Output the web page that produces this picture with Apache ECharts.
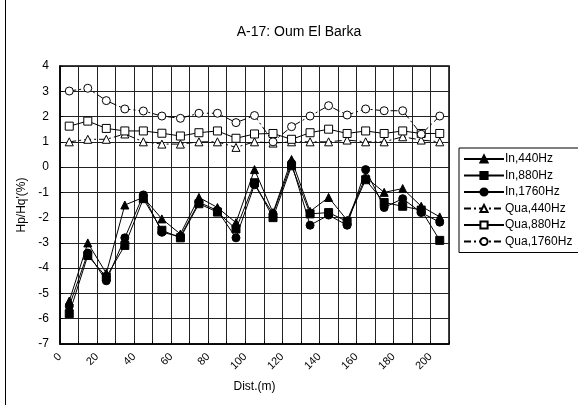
<!DOCTYPE html>
<html><head><meta charset="utf-8">
<script src="https://cdn.jsdelivr.net/npm/echarts@6/dist/echarts.min.js"></script>
<style>html,body{margin:0;padding:0;background:#fff}#c{width:578px;height:405px}</style>
</head><body><div id="c"></div>
<script>
const dist = [5,15,25,35,45,55,65,75,85,95,105,115,125,135,145,155,165,175,185,195,205];
const in440  = [-5.3,-3.0,-4.2,-1.5,-1.2,-2.05,-2.65,-1.2,-1.6,-2.2,-0.1,-1.8,0.3,-1.75,-1.2,-2.1,-0.4,-1.0,-0.85,-1.55,-1.97];
const in880  = [-5.8,-3.5,-4.35,-3.1,-1.25,-2.5,-2.8,-1.45,-1.78,-2.45,-0.62,-2.0,0.05,-1.85,-1.8,-2.15,-0.5,-1.4,-1.55,-1.7,-2.9];
const in1760 = [-5.5,-3.4,-4.5,-2.8,-1.1,-2.58,-2.75,-1.39,-1.72,-2.8,-0.7,-1.85,0.15,-2.3,-1.9,-2.3,-0.1,-1.6,-1.25,-1.8,-2.18];
const qua440  = [1.0,1.1,1.1,1.31,1.0,0.91,0.91,1.0,1.0,0.78,1.0,0.95,1.0,1.0,1.0,1.07,1.0,1.0,1.2,1.07,1.0];
const qua880  = [1.62,1.82,1.53,1.43,1.43,1.34,1.23,1.36,1.43,1.14,1.31,1.33,1.1,1.36,1.5,1.33,1.43,1.33,1.43,1.33,1.33];
const qua1760 = [3.01,3.12,2.63,2.3,2.22,2.02,1.93,2.13,2.13,1.76,2.04,1.0,1.6,2.02,2.43,2.06,2.3,2.23,2.23,1.3,2.02];
const xTicks = [0,20,40,60,80,100,120,140,160,180,200];
const yTicks = [-7,-6,-5,-4,-3,-2,-1,0,1,2,3,4];

const pair = a => a.map((v,i)=>[dist[i], v]);
const FONT = 'Liberation Sans, Arial, sans-serif';
const dash = [7,3,2,3];
function mk(name, data, symbol, filled, dashed){
  return {
    name, type:'line', data: pair(data), symbol, symbolSize: 8,
    showSymbol:true,
    lineStyle:{color:'#000', width:1, type: dashed?dash:'solid'},
    itemStyle:{color: filled?'#000':'#fff', borderColor:'#000', borderWidth:1},
    emphasis:{disabled:true}, animation:false, z: filled?3:2
  };
}
const chart = echarts.init(document.getElementById('c'), null, {renderer:'canvas'});
chart.setOption({
  animation:false,
  backgroundColor:'#fff',
  title:{text:'A-17: Oum El Barka', left:294, top:20, textAlign:'center',
    textStyle:{fontFamily:FONT, fontSize:14, fontWeight:'normal', color:'#000'}},
  grid:{left:60, right:129, top:66, bottom:61, show:true, borderColor:'#000', borderWidth:1.5},
  xAxis:{type:'value', min:0, max:210, interval:10,
    name:'Dist.(m)', nameLocation:'middle', nameGap:37,
    nameTextStyle:{fontFamily:FONT, fontSize:12, color:'#000'},
    axisLine:{show:true, onZero:false, lineStyle:{color:'#000', width:1.5}},
    axisTick:{show:true, inside:true, length:3, lineStyle:{color:'#000'}},
    axisLabel:{rotate:45, fontFamily:FONT, fontSize:11, color:'#000', margin:11,
      formatter: v => xTicks.includes(v) ? String(v) : ''},
    splitLine:{show:true, lineStyle:{color:'#222', width:1}}},
  yAxis:{type:'value', min:-7, max:4, interval:1,
    name:"Hp/Hq'(%)", nameLocation:'middle', nameGap:32, nameRotate:90,
    nameTextStyle:{fontFamily:FONT, fontSize:12, color:'#000'},
    axisLine:{show:true, onZero:false, lineStyle:{color:'#000', width:1.5}},
    axisTick:{show:true, inside:true, length:3, lineStyle:{color:'#000'}},
    axisLabel:{fontFamily:FONT, fontSize:12, color:'#000', margin:11,
      formatter: v => yTicks.includes(v) ? String(v) : ''},
    splitLine:{show:true, lineStyle:{color:'#222', width:1}}},
  legend:{orient:'vertical', left:459, top:148, itemWidth:40, itemHeight:9, itemGap:4.5,
    padding:[5,20,5,4], borderColor:'#000', borderWidth:1,
    textStyle:{fontFamily:FONT, fontSize:12, color:'#000', padding:[0,0,0,-4]},
    data:['In,440Hz','In,880Hz','In,1760Hz','Qua,440Hz','Qua,880Hz','Qua,1760Hz']},
  graphic:[{type:'line', shape:{x1:5.5,y1:0,x2:5.5,y2:405}, style:{stroke:'#000', lineWidth:1}}],
  series:[
    mk('Qua,440Hz', qua440, 'triangle', false, true),
    mk('Qua,880Hz', qua880, 'rect', false, false),
    mk('Qua,1760Hz', qua1760, 'circle', false, true),
    mk('In,440Hz', in440, 'triangle', true, false),
    mk('In,880Hz', in880, 'rect', true, false),
    mk('In,1760Hz', in1760, 'circle', true, false)
  ]
});
</script></body></html>
